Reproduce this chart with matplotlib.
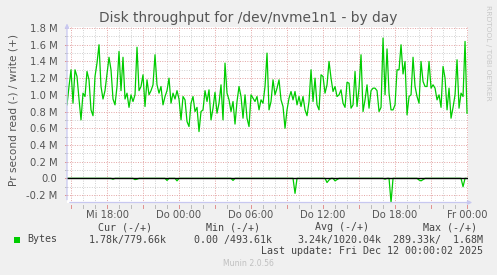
import matplotlib
matplotlib.use('Agg')
import matplotlib.pyplot as plt
import numpy as np

# ---- data (values in M bytes/s, 10-minute samples from Wed 14:40 to Fri 00:00) ----
start_hour = -9.3333   # hours relative to Thu 00:00
step_hour = 1.0 / 6.0

write_M = [
    0.88, 1.10, 1.30, 0.90, 1.30, 1.22, 0.95, 0.70, 1.02, 0.98, 1.28, 1.18, 0.82, 0.75, 1.22, 1.38, 1.60,
    1.10, 0.95, 1.05, 1.25, 1.45, 1.30, 0.95, 0.88, 1.10, 1.52, 1.05, 1.45, 0.95, 1.02, 0.85, 1.00, 0.92,
    1.00, 1.57, 1.05, 1.10, 1.24, 0.86, 1.18, 1.00, 1.05, 1.12, 1.48, 1.12, 1.02, 1.10, 0.88, 0.98, 1.05,
    1.20, 0.90, 1.02, 0.95, 1.05, 0.95, 0.70, 0.98, 0.94, 0.68, 0.62, 0.90, 0.98, 0.80, 0.85, 0.56, 0.80,
    0.82, 1.05, 0.92, 1.06, 0.70, 0.84, 1.03, 0.78, 0.90, 1.12, 0.70, 1.38, 1.02, 0.94, 0.80, 0.92, 0.65,
    0.92, 1.10, 0.98, 0.72, 1.00, 0.72, 0.62, 1.00, 0.96, 0.92, 0.98, 0.82, 0.94, 0.90, 1.10, 1.50, 0.82,
    0.92, 1.18, 1.00, 1.08, 1.18, 0.94, 0.86, 0.60, 0.82, 0.96, 1.04, 0.94, 1.04, 0.88, 0.98, 0.86, 0.98,
    0.82, 0.75, 0.92, 1.30, 0.92, 1.20, 0.88, 0.82, 1.24, 1.22, 1.02, 1.12, 1.40, 1.20, 1.04, 1.10, 0.98,
    1.00, 1.06, 0.90, 0.85, 1.15, 1.14, 0.84, 0.88, 1.28, 0.86, 1.08, 1.48, 0.80, 0.94, 1.12, 0.84, 1.05,
    1.08, 1.08, 1.05, 0.80, 0.85, 1.68, 1.00, 1.55, 1.02, 0.82, 0.82, 0.88, 1.30, 1.30, 1.60, 1.25, 1.40,
    0.76, 0.98, 1.00, 1.45, 1.10, 0.98, 0.90, 1.40, 1.16, 1.10, 1.10, 1.40, 1.08, 1.12, 1.08, 0.94, 1.00,
    0.85, 1.34, 1.20, 0.82, 1.08, 0.72, 0.85, 1.00, 1.42, 0.84, 1.02, 0.98, 1.64, 0.78,
]

# read (drawn negative): sample index -> value in M, all other samples are 0
read_spike_index = [23, 34, 35, 50, 55, 83, 114, 130, 131, 134, 135, 159, 162, 176, 177, 178, 198, 200]
read_spike_M = [0.01, 0.015, 0.01, 0.025, 0.03, 0.025, 0.18, 0.05, 0.02, 0.03, 0.015, 0.01, 0.289,
                0.02, 0.03, 0.015, 0.10, 0.0018]

ytick_values = [-0.2, 0.0, 0.2, 0.4, 0.6, 0.8, 1.0, 1.2, 1.4, 1.6, 1.8]
xtick_hours = [-6, 0, 6, 12, 18, 24]
xtick_labels = ['Mi 18:00', 'Do 00:00', 'Do 06:00', 'Do 12:00', 'Do 18:00', 'Fr 00:00']

legend_headers = ['Cur (-/+)', 'Min (-/+)', 'Avg (-/+)', 'Max (-/+)']
legend_name = 'Bytes'
legend_cur = '1.78k/779.66k'
legend_min = '0.00 /493.61k'
legend_avg = '3.24k/1020.04k'
legend_max = '289.33k/  1.68M'

title = 'Disk throughput for /dev/nvme1n1 - by day'
ylabel = 'Pr second read (-) / write (+)'
last_update = 'Last update: Fri Dec 12 00:00:02 2025'

# ---- figure ----
W, H = 497, 275
fig = plt.figure(figsize=(W / 100, H / 100), dpi=100, facecolor='#F0F0F0')

def fx(x):
    return x / W

def fy(y):
    return 1 - y / H

L, R, T, B = 67, 468, 26.7, 202.5
ax = fig.add_axes([fx(L), fy(B), (R - L) / W, (B - T) / H])
ax.set_facecolor('white')

n = len(write_M)
hours = start_hour + step_hour * np.arange(n)
read_M = np.zeros(n)
for i, v in zip(read_spike_index, read_spike_M):
    read_M[i] = v

ymin, ymax = -0.2893, 1.816
xmin, xmax = hours[0], hours[-1] + 0.08
ax.set_xlim(xmin, xmax)
ax.set_ylim(ymin, ymax)

grid_minor = '#CFCFCF'
grid_major = '#E3A3A3'
dot = (0, (1, 1.5))
# minor grid
for h in np.arange(-9, 25, 1):
    if h % 3 != 0:
        ax.axvline(h, color=grid_minor, lw=0.7, ls=dot, zorder=1)
for v in np.arange(-0.2, 1.85, 0.2):
    ax.axhline(v + 0.1, color=grid_minor, lw=0.7, ls=dot, zorder=1)
# major grid
for h in np.arange(-9, 25, 3):
    ax.axvline(h, color=grid_major, lw=0.7, ls=dot, zorder=2)
for v in ytick_values:
    ax.axhline(v, color=grid_major, lw=0.7, ls=dot, zorder=2)

green = '#00CC00'
ax.plot(hours, write_M, color=green, lw=0.9, zorder=4)
ax.plot(hours, -read_M, color=green, lw=0.9, zorder=4)
ax.axhline(0, color='black', lw=1.0, zorder=5)

for s in ax.spines.values():
    s.set_visible(False)

ax.set_yticks(ytick_values)
ax.set_yticklabels(['0.0' if abs(v) < 1e-9 else ('%.1f M' % v) for v in ytick_values])
ax.set_xticks(xtick_hours)
ax.set_xticklabels(xtick_labels)
ax.tick_params(axis='both', length=0, labelsize=7.2, labelcolor='#555555')
ax.tick_params(axis='y', pad=7)
ax.tick_params(axis='x', pad=5.5)

# axis lines with arrows
axis_col = '#C8C8F0'
ax.annotate('', xy=(1 + 7 / (R - L), 0), xytext=(0, 0), xycoords='axes fraction',
            arrowprops=dict(arrowstyle='-|>', color=axis_col, lw=0.9, mutation_scale=6), zorder=6)
ax.annotate('', xy=(0, 1 + 6 / (B - T)), xytext=(0, 0), xycoords='axes fraction',
            arrowprops=dict(arrowstyle='-|>', color=axis_col, lw=0.9, mutation_scale=6), zorder=6)

# small tick marks
for h in np.arange(-9, 25, 1):
    c = '#E09090' if h % 3 == 0 else '#BBBBBB'
    ax.plot([h, h], [-0.012, -0.03], transform=ax.get_xaxis_transform(), color=c, lw=0.7, clip_on=False)
for v in np.arange(-0.2, 1.85, 0.1):
    c = '#E09090' if abs(round(v * 10)) % 2 == 0 else '#BBBBBB'
    ax.plot([-0.006, -0.0], [v, v], transform=ax.get_yaxis_transform(), color=c, lw=0.7, clip_on=False)

# texts
fig.text(fx(248), fy(18), title, ha='center', va='center', fontsize=9.9, color='#555555')
fig.text(fx(14), fy(110), ylabel, ha='center', va='center', rotation=90, fontsize=7.6, color='#555555')
fig.text(fx(488), fy(5), 'RRDTOOL / TOBI OETIKER', ha='center', va='top', rotation=270,
         fontsize=5.4, color='#C8C8C8')

mono = 'DejaVu Sans Mono'
tc = '#444444'
fs = 7.2
for hx, htxt in zip([125, 233, 342, 450], legend_headers):
    fig.text(fx(hx), fy(227.5), htxt, ha='center', va='center', family=mono, fontsize=fs, color=tc)
fig.patches.append(plt.Rectangle((fx(14), fy(242.5)), 6 / W, 6 / H, transform=fig.transFigure,
                                 facecolor=green, edgecolor='none'))
fig.text(fx(27), fy(239.5), legend_name, ha='left', va='center', family=mono, fontsize=fs, color=tc)
fig.text(fx(89), fy(239.5), legend_cur, ha='left', va='center', family=mono, fontsize=fs, color=tc)
fig.text(fx(194), fy(239.5), legend_min, ha='left', va='center', family=mono, fontsize=fs, color=tc)
fig.text(fx(297), fy(239.5), legend_avg, ha='left', va='center', family=mono, fontsize=fs, color=tc)
fig.text(fx(483), fy(239.5), legend_max, ha='right', va='center', family=mono, fontsize=fs, color=tc)
fig.text(fx(483), fy(251.5), last_update, ha='right', va='center', family=mono, fontsize=fs, color=tc)
fig.text(fx(248), fy(264), 'Munin 2.0.56', ha='center', va='center', fontsize=5.6, color='#C0C0C0')

fig.savefig('out.png', dpi=100, facecolor='#F0F0F0')
